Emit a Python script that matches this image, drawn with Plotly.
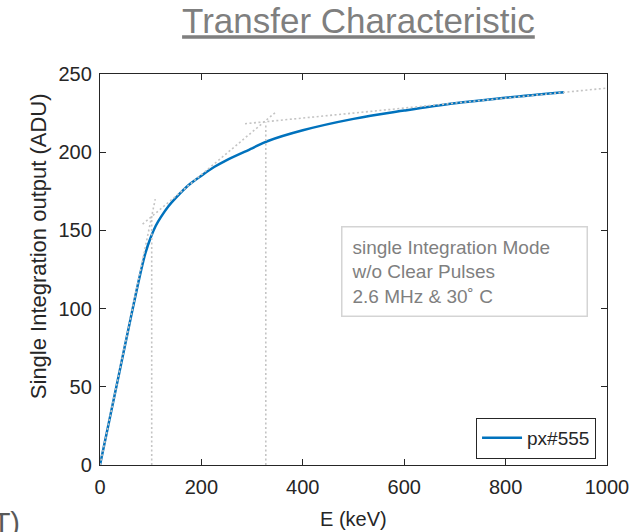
import plotly.graph_objects as go

# Measured transfer curve of pixel #555
energy_kev = [0, 20, 40, 60, 80, 90, 100, 110, 120, 135, 150, 175, 200, 225, 250,
              300, 330, 400, 500, 600, 700, 800, 915]
adu_out = [0, 31, 62, 93, 123, 136, 145.5, 153, 158.5, 165.5, 171, 179, 185, 190.5, 195,
           202.5, 207, 214, 221.3, 226.6, 231.3, 234.8, 238.3]

# Piece-wise linear guides (x pairs, y pairs)
guide_x = [[0, 109], [84, 348], [286, 1000], [102, 102], [327, 327]]
guide_y = [[0, 170], [154, 226], [218.2, 241], [0, 159], [0, 219]]

x_ticks = [0, 200, 400, 600, 800, 1000]
y_ticks = [0, 50, 100, 150, 200, 250]

FONT = "Liberation Sans, Arial, sans-serif"
AX = "#262626"

fig = go.Figure()
fig.add_trace(go.Scatter(
    x=energy_kev, y=adu_out, mode="lines", name="px#555",
    line=dict(color="#0072BD", width=2.5, shape="spline", smoothing=1.0),
))
for gx, gy in zip(guide_x, guide_y):
    fig.add_trace(go.Scatter(
        x=gx, y=gy, mode="lines", showlegend=False, hoverinfo="skip",
        line=dict(color="#c4c4c4", width=1.6, dash="2px,2.5px"),
    ))

axis_common = dict(
    showline=True, linecolor=AX, linewidth=1.4, mirror="ticks",
    ticks="inside", ticklen=6, tickwidth=1.2, tickcolor=AX,
    showgrid=False, zeroline=False,
    tickfont=dict(family=FONT, size=20, color=AX),
)
fig.update_xaxes(range=[0, 1000], tickvals=x_ticks, ticklabelstandoff=4, **axis_common)
fig.update_yaxes(range=[0, 250], tickvals=y_ticks, ticklabelstandoff=3, **axis_common)

fig.update_layout(
    width=641, height=532,
    margin=dict(l=100, r=29, t=74, b=67),
    paper_bgcolor="white", plot_bgcolor="white",
    font=dict(family=FONT, color=AX),
    title=dict(
        text="<u>Transfer Characteristic</u>",
        font=dict(family=FONT, size=35, color="#7f7f7f"),
        x=0.5 + 5 / 512, xref="paper", xanchor="center",
        y=1 - 21 / 532, yref="container", yanchor="middle",
    ),
    showlegend=True,
    legend=dict(
        x=0.978, y=0.016, xanchor="right", yanchor="bottom",
        bordercolor=AX, borderwidth=1.2, bgcolor="white",
        font=dict(family=FONT, size=19, color=AX),
        itemwidth=40, tracegroupgap=0,
    ),
    annotations=[
        dict(text="E (keV)", xref="paper", yref="paper", x=0.5, y=-0.138,
             xanchor="center", yanchor="middle", showarrow=False,
             font=dict(family=FONT, size=20, color=AX)),
        dict(text="Single Integration output (ADU)", xref="paper", yref="paper",
             x=-0.122, y=0.56, xanchor="center", yanchor="middle", textangle=-90,
             showarrow=False, font=dict(family=FONT, size=22, color=AX)),
        dict(text="single Integration Mode<br>w/o Clear Pulses<br>2.6 MHz &amp; 30˚ C",
             xref="paper", yref="paper", x=(343 - 100) / 512, y=(465 - 226) / 391,
             xanchor="left", yanchor="top", align="left", showarrow=False,
             bordercolor="#d4d4d4", borderwidth=1.5, borderpad=9, bgcolor="white",
             width=226, font=dict(family=FONT, size=19, color="#7f7f7f")),
        dict(text="(T)", xref="paper", yref="paper", x=(21 - 100) / 512,
             y=(465 - 505) / 391, xanchor="right", yanchor="top", showarrow=False,
             font=dict(family=FONT, size=29, color="#595959")),
    ],
)

fig.write_html("out.html")
